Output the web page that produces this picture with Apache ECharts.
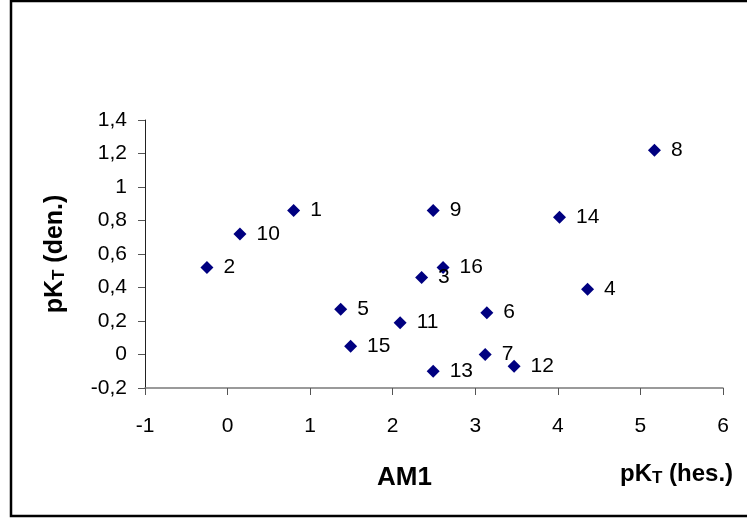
<!DOCTYPE html>
<html>
<head>
<meta charset="utf-8">
<script src="https://cdn.jsdelivr.net/npm/echarts@6/dist/echarts.min.js"></script>
<style>
  html, body { margin: 0; padding: 0; background: #fff; }
  #chart { width: 747px; height: 520px; }
</style>
</head>
<body>
<div id="chart"></div>
<script>
// Compound labels and their pK_T values (x: hes., y: den.)
const pointNames = ['1', '2', '3', '4', '5', '6', '7', '8', '9', '10', '11', '12', '13', '14', '15', '16'];
const xValues = [0.80, -0.25, 2.35, 4.36, 1.37, 3.14, 3.12, 5.17, 2.49, 0.15, 2.09, 3.47, 2.49, 4.02, 1.49, 2.61];
const yValues = [0.86, 0.52, 0.46, 0.39, 0.27, 0.25, 0.00, 1.22, 0.86, 0.72, 0.19, -0.07, -0.10, 0.82, 0.05, 0.52];

const xTicks = { min: -1, max: 6, step: 1 };
const yTicks = { min: -0.2, max: 1.4, step: 0.2 };

const FONT = 'Arial, "Liberation Sans", sans-serif';
const fmt = v => String(+v.toFixed(1)).replace('.', ',');

const points = pointNames.map((n, i) => ({ name: n, value: [xValues[i], yValues[i]] }));

const chart = echarts.init(document.getElementById('chart'), null, { renderer: 'canvas' });
chart.setOption({
  backgroundColor: '#ffffff',
  animation: false,
  grid: { left: 145, right: 24, top: 120, bottom: 132, containLabel: false },
  xAxis: {
    type: 'value',
    min: xTicks.min, max: xTicks.max, interval: xTicks.step,
    axisLine: { onZero: false, lineStyle: { color: '#7a7a7a', width: 1.5 } },
    axisTick: { show: true, length: 7, lineStyle: { color: '#555', width: 1 } },
    splitLine: { show: false },
    axisLabel: { color: '#000', fontSize: 21, fontFamily: FONT, margin: 28, formatter: fmt }
  },
  yAxis: {
    type: 'value',
    min: yTicks.min, max: yTicks.max, interval: yTicks.step,
    axisLine: { onZero: false, lineStyle: { color: '#222', width: 1 } },
    axisTick: { show: true, length: 7, lineStyle: { color: '#555', width: 1 } },
    splitLine: { show: false },
    axisLabel: { color: '#000', fontSize: 21, fontFamily: FONT, margin: 18, formatter: fmt },
    name: '{a|pK}{s|T}{a| (den.)}',
    nameLocation: 'middle',
    nameGap: 77,
    nameRotate: 90,
    nameTextStyle: {
      rich: {
        a: { fontSize: 25, fontWeight: 'bold', fontFamily: FONT, color: '#000' },
        s: { fontSize: 17, fontWeight: 'bold', fontFamily: FONT, color: '#000', verticalAlign: 'bottom', padding: [8, 0, 0, 0] }
      }
    }
  },
  series: [{
    type: 'scatter',
    symbol: 'diamond',
    symbolSize: 13,
    itemStyle: { color: '#000080', opacity: 1 },
    data: points,
    label: {
      show: true,
      position: 'right',
      distance: 10,
      formatter: p => p.name,
      color: '#000',
      fontSize: 21,
      fontFamily: FONT
    }
  }],
  graphic: [
    {
      type: 'rect',
      shape: { x: 11, y: 1, width: 780, height: 515 },
      style: { fill: 'none', stroke: '#000', lineWidth: 2.5 },
      silent: true
    },
    {
      type: 'text',
      left: 377, top: 465,
      style: { text: 'AM1', font: 'bold 26px ' + FONT, fill: '#000' }
    },
    {
      type: 'text',
      left: 620, top: 462,
      style: {
        text: '{a|pK}{s|T}{a| (hes.)}',
        rich: {
          a: { fontSize: 24, fontWeight: 'bold', fontFamily: FONT, fill: '#000' },
          s: { fontSize: 17, fontWeight: 'bold', fontFamily: FONT, fill: '#000', verticalAlign: 'bottom', padding: [8, 0, 0, 0] }
        }
      }
    }
  ]
});
</script>
</body>
</html>
